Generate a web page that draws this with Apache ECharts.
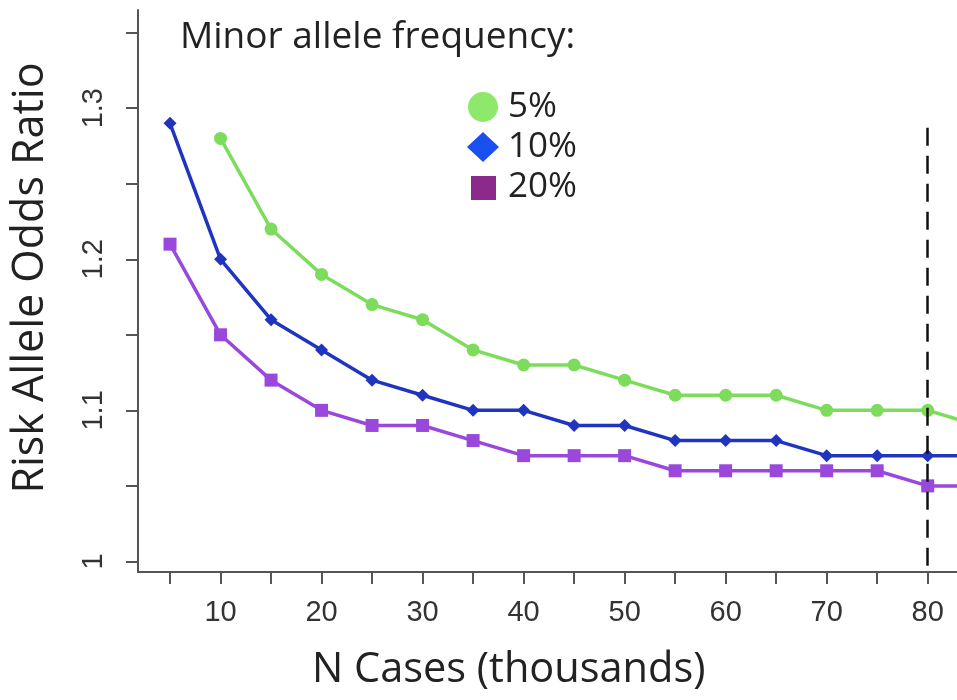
<!DOCTYPE html>
<html>
<head>
<meta charset="utf-8">
<script src="https://cdn.jsdelivr.net/npm/echarts@6/dist/echarts.min.js"></script>
<style>html,body{margin:0;padding:0;background:#fff}#c{width:957px;height:700px}</style>
</head>
<body>
<div id="c"></div>
<script>
var nCases = [5, 10, 15, 20, 25, 30, 35, 40, 45, 50, 55, 60, 65, 70, 75, 80, 85];
var maf5  = [null, 1.28, 1.22, 1.19, 1.17, 1.16, 1.14, 1.13, 1.13, 1.12, 1.11, 1.11, 1.11, 1.10, 1.10, 1.10, 1.09];
var maf10 = [1.29, 1.20, 1.16, 1.14, 1.12, 1.11, 1.10, 1.10, 1.09, 1.09, 1.08, 1.08, 1.08, 1.07, 1.07, 1.07, 1.07];
var maf20 = [1.21, 1.15, 1.12, 1.10, 1.09, 1.09, 1.08, 1.07, 1.07, 1.07, 1.06, 1.06, 1.06, 1.06, 1.06, 1.05, 1.05];
var xTicks = [5, 10, 15, 20, 25, 30, 35, 40, 45, 50, 55, 60, 65, 70, 75, 80];
var xLabels = [10, 20, 30, 40, 50, 60, 70, 80];
var yTicks = [1, 1.05, 1.1, 1.15, 1.2, 1.25, 1.3, 1.35];
var yLabels = [1, 1.1, 1.2, 1.3];
var seriesNames = ['5%', '10%', '20%'];
var cutoffX = 80;
var cutoffTop = 1.287;

function pairs(vals) {
  var out = [];
  for (var i = 0; i < nCases.length; i++) {
    if (vals[i] !== null) out.push([nCases[i], vals[i]]);
  }
  return out;
}

var chart = echarts.init(document.getElementById('c'));
var tickFont = 'Liberation Sans, Arial, sans-serif';
var textFont = 'Open Sans, Noto Sans, sans-serif';

chart.setOption({
  animation: false,
  backgroundColor: '#fff',
  grid: { left: 138, right: 0, top: 10, bottom: 128, containLabel: false },
  xAxis: {
    type: 'value', min: 1.83, max: 82.9,
    splitLine: { show: false },
    axisLine: { show: true, lineStyle: { color: '#555', width: 2 } },
    axisTick: { show: true, inside: false, length: 12, customValues: xTicks, lineStyle: { color: '#555', width: 2 } },
    axisLabel: { customValues: xLabels, margin: 26, fontSize: 29, color: '#333', fontFamily: tickFont }
  },
  yAxis: {
    type: 'value', min: 0.993, max: 1.365,
    splitLine: { show: false },
    axisLine: { show: true, lineStyle: { color: '#555', width: 2 } },
    axisTick: { show: true, inside: false, length: 12, customValues: yTicks, lineStyle: { color: '#555', width: 2 } },
    axisLabel: { customValues: yLabels, rotate: 90, margin: 30, fontSize: 29, color: '#333', fontFamily: tickFont,
      formatter: function (v) { return String(+v.toFixed(2)); } },
    name: 'Risk Allele Odds Ratio', nameLocation: 'middle', nameGap: 86, nameRotate: 90,
    nameTextStyle: { fontSize: 43, color: '#222', fontFamily: textFont, padding: [0, 0, 0, 26] }
  },
  legend: {
    orient: 'vertical', left: 462, top: 82, itemGap: 0, itemWidth: 32, itemHeight: 30,
    textStyle: { fontSize: 35, lineHeight: 34, color: '#222', fontFamily: textFont, padding: [6, 0, 0, 4] },
    data: [
      { name: '5%', icon: 'circle', itemStyle: { color: '#8ee86a' } },
      { name: '10%', icon: 'diamond', itemStyle: { color: '#1a4ff0' } },
      { name: '20%', icon: 'path://M0,0M32,30M4,4H29V28H4Z', itemStyle: { color: '#8b2a8b' } }
    ]
  },
  graphic: [
    { type: 'text', left: 180, top: 19, style: { text: 'Minor allele frequency:', fontSize: 37, fill: '#222', fontFamily: textFont } },
    { type: 'text', left: 312, top: 649, style: { text: 'N Cases (thousands)', fontSize: 41.5, fill: '#222', fontFamily: textFont } }
  ],
  series: [
    { name: seriesNames[0], type: 'line', data: pairs(maf5), symbol: 'circle', symbolSize: 13,
      itemStyle: { color: '#7ddc5c' }, lineStyle: { color: '#7ddc5c', width: 3.5 }, z: 3,
      markLine: { silent: true, symbol: 'none', label: { show: false },
        lineStyle: { color: '#111', type: [18, 10], width: 2.5 },
        data: [[{ coord: [cutoffX, cutoffTop] }, { coord: [cutoffX, 0.993] }]] } },
    { name: seriesNames[1], type: 'line', data: pairs(maf10), symbol: 'diamond', symbolSize: 13,
      itemStyle: { color: '#1f35c0' }, lineStyle: { color: '#1f35c0', width: 3.5 }, z: 4 },
    { name: seriesNames[2], type: 'line', data: pairs(maf20), symbol: 'rect', symbolSize: 13,
      itemStyle: { color: '#9a48dc' }, lineStyle: { color: '#9a48dc', width: 3.5 }, z: 2 }
  ]
});
</script>
</body>
</html>
